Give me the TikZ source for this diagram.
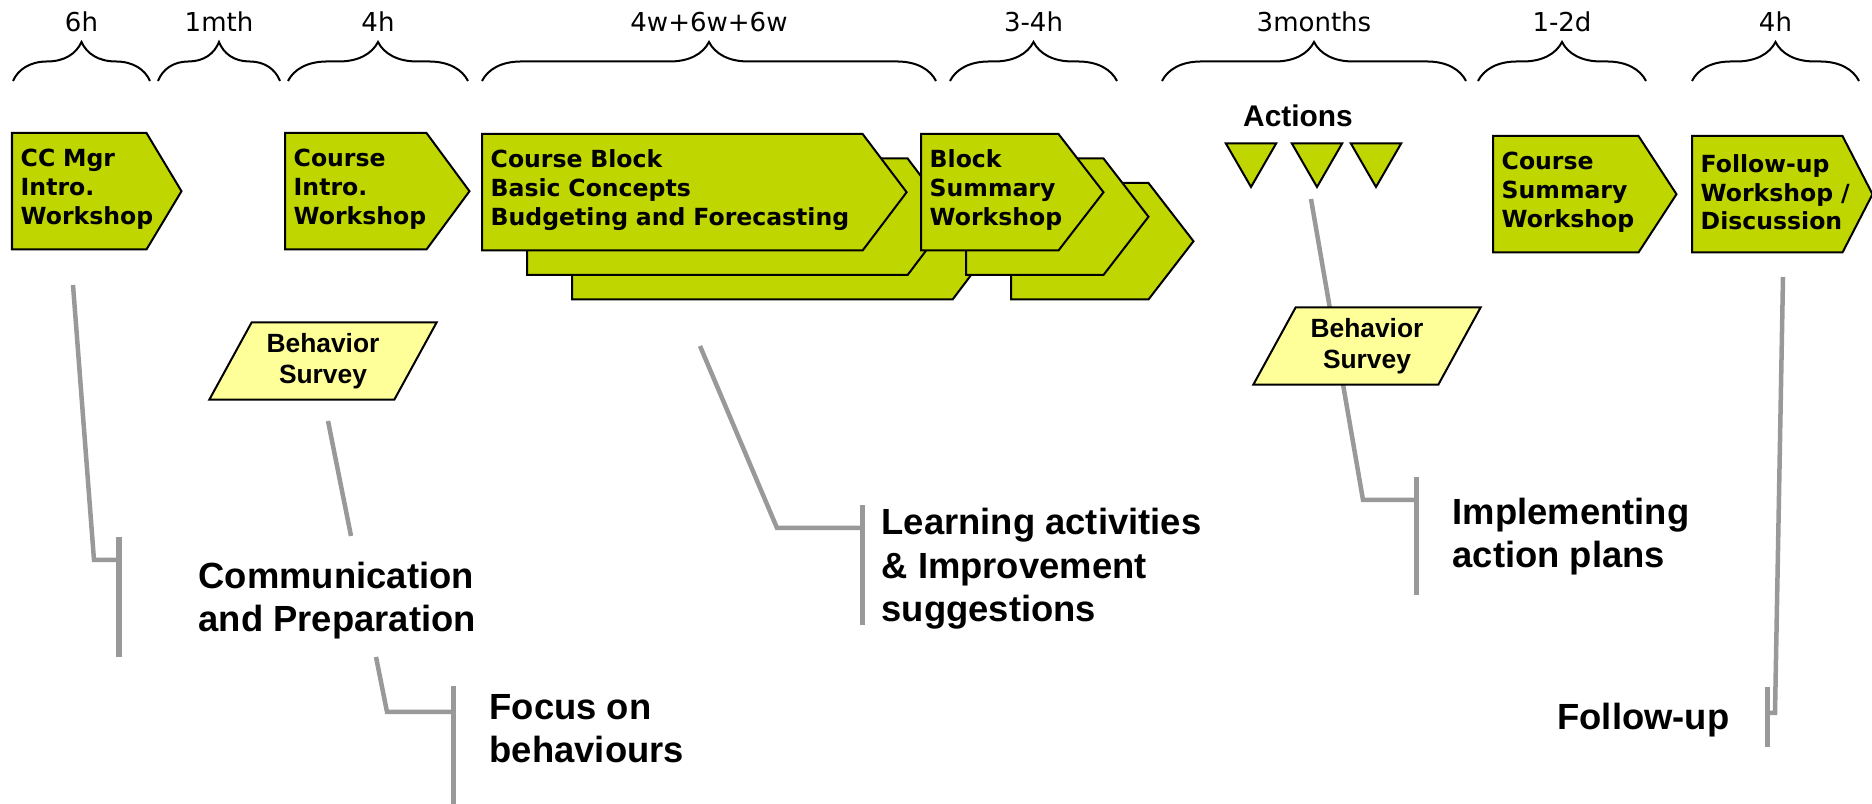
\documentclass[tikz,border=0pt]{standalone}
\usepackage{fontspec}
\setmainfont{DejaVu Sans}
\newfontfamily\arialfont{Liberation Sans}
\usetikzlibrary{decorations.pathreplacing,shapes.geometric}
\pgfdeclarelayer{bg}
\pgfsetlayers{bg,main}
\definecolor{chevgreen}{RGB}{191,214,0}
\definecolor{surveyyellow}{RGB}{255,255,153}
\definecolor{leadgray}{RGB}{153,153,153}

\begin{document}
\begin{tikzpicture}[x=0.01cm,y=-0.01cm]

        \tikzstyle{chev}=[rectangle, anchor=north west, minimum height=1.15cm, inner xsep=0.08cm, inner ysep=0pt, align=left, font=\bfseries\fontsize{6.7}{8.2}\selectfont]
        \tikzstyle{chevbox}=[draw=black, fill=chevgreen, line width=0.02cm]
        \tikzstyle{survey}=[trapezium, trapezium left angle=59, trapezium right angle=121, trapezium stretches, minimum width=2.28cm, minimum height=0.77cm, inner sep=0pt, draw=black, fill=surveyyellow, line width=0.02cm, align=center, font=\arialfont\bfseries\fontsize{7.5}{8.8}\selectfont]
        \tikzstyle{act}=[regular polygon, regular polygon sides=3, shape border rotate=180, minimum size=0.58cm, inner sep=0pt, draw=black, fill=chevgreen, line width=0.02cm]
        \tikzstyle{brc}=[decorate, decoration={brace, amplitude=0.39cm}, line width=0.02cm]
        \tikzstyle{dur}=[anchor=base, font=\fontsize{7.4}{9}\selectfont]
        \tikzstyle{big}=[anchor=base west, align=left, inner sep=0pt, font=\arialfont\bfseries\fontsize{10.35}{12.5}\selectfont]
        \tikzstyle{bar}=[rectangle, fill=leadgray, minimum width=0.05cm, inner sep=0pt]
        \tikzstyle{lead}=[draw=leadgray, line width=0.045cm]

        \useasboundingbox (0,0) rectangle (1872,804);

        % durations
        \foreach \a/\b/\t in {13/150/6h,158/280/1mth,288/468/4h,482/936/4w+6w+6w,950/1117/3-4h,1162/1466/3months,1478/1646/1-2d,1692/1859/4h} {
            \draw[brc] (\a,81) -- (\b,81);
            \node[dur] (d_\a) at ({(\a+\b)/2},32) {\t};
        }

        % workshops
        \node[chev, text width=1.17cm] (cc) at (12,131) {CC Mgr\\Intro.\\Workshop};
        \node[chev, text width=1.24cm] (ci) at (285,131) {Course\\Intro.\\Workshop};
        \node[chev, text width=3.63cm] (cb) at (482,132) {Course Block\\Basic Concepts\\Budgeting and Forecasting};
        \node[chev, text width=1.20cm] (bs) at (921,132) {Block\\Summary\\Workshop};
        \node[chev, text width=1.28cm] (cs) at (1493,134) {Course\\Summary\\Workshop};
        \node[chev, text width=1.33cm] (fu) at (1692,134) {Follow-up\\Workshop~/\\Discussion};
        \foreach \n/\w in {cb/3.63cm,bs/1.20cm} {
            \foreach \d/\dx/\dy in {2/45/24.5,3/90/49} {
                \node[chev, text width=\w] (\n_\d) at ([shift={(\dx,\dy)}]\n.north west) {};
            }
        }

        \begin{pgfonlayer}{bg}
            \foreach \n/\t in {cb_3/44,cb_2/44,bs_3/45,bs_2/45,cc/35,ci/43,cb/44,bs/45,cs/38,fu/30} {
                \draw[chevbox] ([yshift=-0.02cm]\n.north west) -- ([yshift=-0.02cm]\n.north east) -- ([shift={(\t,2)}]\n.east) -- ([yshift=-0.02cm]\n.south east) -- ([yshift=-0.02cm]\n.south west) -- cycle;
            }
        \end{pgfonlayer}

        % actions
        \node[anchor=base, font=\arialfont\bfseries\fontsize{8.5}{10}\selectfont] (actions) at (1298,127) {Actions};
        \foreach \i/\x in {1/1251,2/1317,3/1376} {
            \node[act] (a_\i) at (\x,158) {};
        }

        % surveys
        \node[survey] (sv_1) at (323,361) {Behavior\\Survey};
        \node[survey] (sv_2) at (1367,346) {Behavior\\Survey};

        % phases (base = last line)
        \node[big] (comm) at (198,632) {Communication\\and Preparation};
        \node[big] (focus) at (489,763) {Focus on\\behaviours};
        \node[big] (learn) at (881,622) {Learning activities\\\& Improvement\\suggestions};
        \node[big] (impl) at (1452,568) {Implementing\\action plans};
        \node[big, anchor=base east] (fol) at (1730,730) {Follow-up};

        \foreach \n/\x/\y/\h in {comm/119/597/1.2cm,focus/453/746/1.2cm,learn/862/565/1.19cm,impl/1416/536/1.18cm,fol/1767/717/0.6cm} {
            \node[bar, minimum height=\h] (bar_\n) at (\x,\y) {};
        }

        % leads
        \foreach \n/\px/\py/\kx/\ky in {comm/73/285/94/560,focus/376/657/387/712,learn/700/346/777/528,impl/1311/199/1363/500,fol/1783/277/1775/713} {
            \coordinate (p_\n) at (\px,\py);
            \coordinate (k_\n) at (\kx,\ky);
            \begin{pgfonlayer}{bg}
                \draw[lead] (p_\n) -- (k_\n) -- (k_\n -| bar_\n.center);
            \end{pgfonlayer}
        }
        \coordinate (p_sv) at (328,421);
        \coordinate (k_sv) at (351,536);
        \begin{pgfonlayer}{bg}
            \draw[lead] (p_sv) -- (k_sv);
        \end{pgfonlayer}

\end{tikzpicture}
\end{document}
